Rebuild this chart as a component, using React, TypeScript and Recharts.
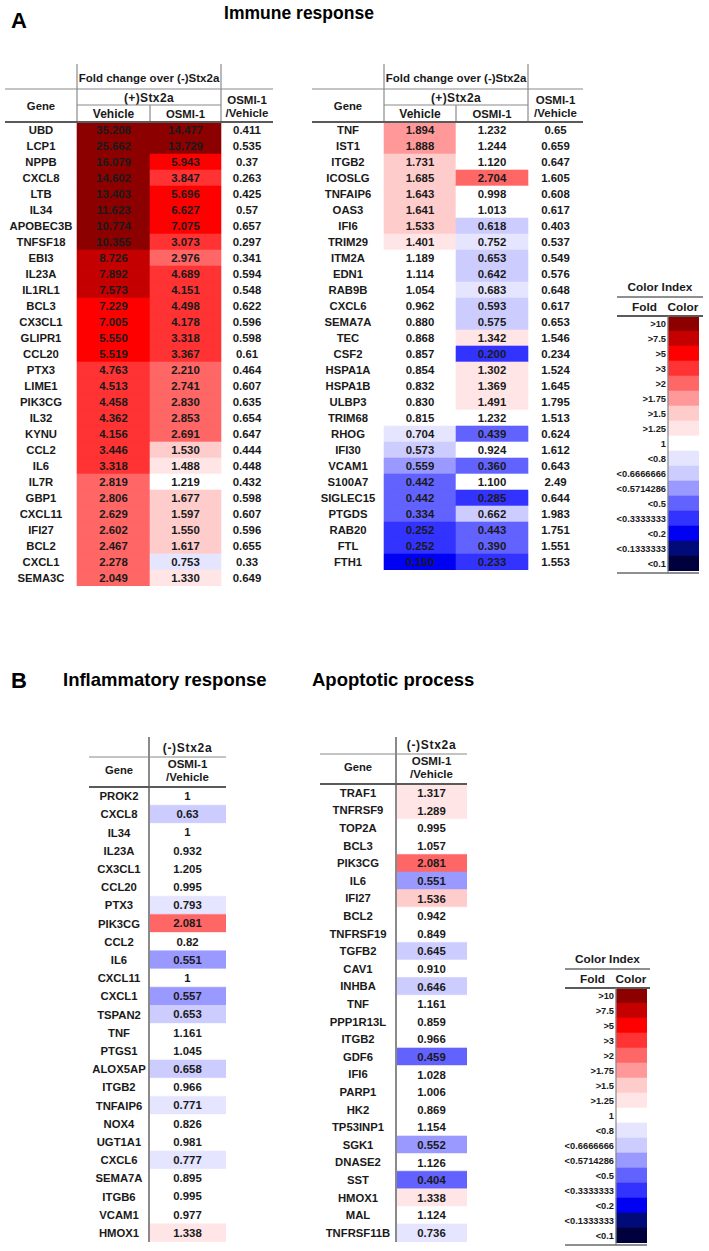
import { Bar, BarChart, Cell, LabelList, XAxis, YAxis } from "recharts";

const FONT = "'Liberation Sans', Arial, sans-serif";
const INK = "#1a1a1a";

// A: Immune response, left table
const immuneLeftGenes = [
  "UBD", "LCP1", "NPPB", "CXCL8", "LTB", "IL34", "APOBEC3B", "TNFSF18", "EBI3", "IL23A",
  "IL1RL1", "BCL3", "CX3CL1", "GLIPR1", "CCL20", "PTX3", "LIME1", "PIK3CG", "IL32", "KYNU",
  "CCL2", "IL6", "IL7R", "GBP1", "CXCL11", "IFI27", "BCL2", "CXCL1", "SEMA3C",
];
const immuneLeftVehicle = [
  35.208, 25.662, 16.079, 14.602, 13.403, 11.623, 10.774, 10.355, 8.726, 7.892,
  7.573, 7.229, 7.005, 5.55, 5.519, 4.763, 4.513, 4.458, 4.362, 4.156,
  3.446, 3.318, 2.819, 2.806, 2.629, 2.602, 2.467, 2.278, 2.049,
];
const immuneLeftOsmi = [
  14.477, 13.729, 5.943, 3.847, 5.696, 6.627, 7.075, 3.073, 2.976, 4.689,
  4.151, 4.498, 4.178, 3.318, 3.367, 2.21, 2.741, 2.83, 2.853, 2.691,
  1.53, 1.488, 1.219, 1.677, 1.597, 1.55, 1.617, 0.753, 1.33,
];
const immuneLeftRatio = [
  0.411, 0.535, 0.37, 0.263, 0.425, 0.57, 0.657, 0.297, 0.341, 0.594,
  0.548, 0.622, 0.596, 0.598, 0.61, 0.464, 0.607, 0.635, 0.654, 0.647,
  0.444, 0.448, 0.432, 0.598, 0.607, 0.596, 0.655, 0.33, 0.649,
];

// A: Immune response, right table
const immuneRightGenes = [
  "TNF", "IST1", "ITGB2", "ICOSLG", "TNFAIP6", "OAS3", "IFI6", "TRIM29", "ITM2A", "EDN1",
  "RAB9B", "CXCL6", "SEMA7A", "TEC", "CSF2", "HSPA1A", "HSPA1B", "ULBP3", "TRIM68", "RHOG",
  "IFI30", "VCAM1", "S100A7", "SIGLEC15", "PTGDS", "RAB20", "FTL", "FTH1",
];
const immuneRightVehicle = [
  1.894, 1.888, 1.731, 1.685, 1.643, 1.641, 1.533, 1.401, 1.189, 1.114,
  1.054, 0.962, 0.88, 0.868, 0.857, 0.854, 0.832, 0.83, 0.815, 0.704,
  0.573, 0.559, 0.442, 0.442, 0.334, 0.252, 0.252, 0.15,
];
const immuneRightOsmi = [
  1.232, 1.244, 1.12, 2.704, 0.998, 1.013, 0.618, 0.752, 0.653, 0.642,
  0.683, 0.593, 0.575, 1.342, 0.2, 1.302, 1.369, 1.491, 1.232, 0.439,
  0.924, 0.36, 1.1, 0.285, 0.662, 0.443, 0.39, 0.233,
];
const immuneRightRatio = [
  0.65, 0.659, 0.647, 1.605, 0.608, 0.617, 0.403, 0.537, 0.549, 0.576,
  0.648, 0.617, 0.653, 1.546, 0.234, 1.524, 1.645, 1.795, 1.513, 0.624,
  1.612, 0.643, 2.49, 0.644, 1.983, 1.751, 1.551, 1.553,
];

// B: Inflammatory response
const inflamGenes = [
  "PROK2", "CXCL8", "IL34", "IL23A", "CX3CL1", "CCL20", "PTX3", "PIK3CG", "CCL2", "IL6",
  "CXCL11", "CXCL1", "TSPAN2", "TNF", "PTGS1", "ALOX5AP", "ITGB2", "TNFAIP6", "NOX4", "UGT1A1",
  "CXCL6", "SEMA7A", "ITGB6", "VCAM1", "HMOX1",
];
const inflamRatio = [
  1, 0.63, 1, 0.932, 1.205, 0.995, 0.793, 2.081, 0.82, 0.551,
  1, 0.557, 0.653, 1.161, 1.045, 0.658, 0.966, 0.771, 0.826, 0.981,
  0.777, 0.895, 0.995, 0.977, 1.338,
];

// B: Apoptotic process
const apopGenes = [
  "TRAF1", "TNFRSF9", "TOP2A", "BCL3", "PIK3CG", "IL6", "IFI27", "BCL2", "TNFRSF19", "TGFB2",
  "CAV1", "INHBA", "TNF", "PPP1R13L", "ITGB2", "GDF6", "IFI6", "PARP1", "HK2", "TP53INP1",
  "SGK1", "DNASE2", "SST", "HMOX1", "MAL", "TNFRSF11B",
];
const apopRatio = [
  1.317, 1.289, 0.995, 1.057, 2.081, 0.551, 1.536, 0.942, 0.849, 0.645,
  0.91, 0.646, 1.161, 0.859, 0.966, 0.459, 1.028, 1.006, 0.869, 1.154,
  0.552, 1.126, 0.404, 1.338, 1.124, 0.736,
];

// colour index
const foldLabels = [
  ">10", ">7.5", ">5", ">3", ">2", ">1.75", ">1.5", ">1.25", "1",
  "<0.8", "<0.6666666", "<0.5714286", "<0.5", "<0.3333333", "<0.2", "<0.1333333", "<0.1",
];
const foldColors = [
  "#8c0000", "#c40000", "#ff0000", "#ff3333", "#ff6666", "#ff9999", "#ffcccc", "#ffe5e5", "#ffffff",
  "#e5e5ff", "#ccccff", "#9999ff", "#6262ff", "#3333ff", "#0000f2", "#000a78", "#00003c",
];
const upCuts = [10, 7.5, 5, 3, 2, 1.75, 1.5, 1.25];
const downCuts = [0.8, 0.6666666, 0.5714286, 0.5, 0.3333333, 0.2, 0.1333333, 0.1];

function colorFor(v: number) {
  const up = upCuts.findIndex((c) => v > c);
  if (up >= 0) return foldColors[up];
  let idx = 8;
  downCuts.forEach((c, i) => {
    if (v < c) idx = 9 + i;
  });
  return foldColors[idx];
}

const fixed3 = (v: number) => v.toFixed(3);
const plain = (v: number) => String(v);

type Col = { key: string; width: number; colored: boolean; fmt: (v: number) => string };

function HeatTable({ left, top, geneWidth, rowHeight, rows, cols }: any) {
  const total = cols.reduce((s: number, c: Col) => s + c.width, 0);
  return (
    <div style={{ position: "absolute", left, top }}>
      <BarChart
        layout="vertical"
        width={geneWidth + total}
        height={rows.length * rowHeight}
        data={rows}
        margin={{ top: 0, right: 0, bottom: 0, left: 0 }}
        barCategoryGap={0}
        barGap={0}
      >
        <XAxis type="number" hide domain={[0, total]} />
        <YAxis
          type="category"
          dataKey="gene"
          width={geneWidth}
          axisLine={false}
          tickLine={false}
          interval={0}
          tick={(p: any) => (
            <text
              x={geneWidth / 2}
              y={p.y}
              textAnchor="middle"
              dominantBaseline="central"
              fontSize={11.3}
              fontWeight="bold"
              fontFamily={FONT}
              fill={INK}
            >
              {p.payload.value}
            </text>
          )}
        />
        {cols.map((c: Col) => (
          <Bar key={c.key} dataKey={() => c.width} stackId="t" isAnimationActive={false}>
            {rows.map((r: any, i: number) => {
              const fill = c.colored ? colorFor(r[c.key]) : "none";
              return <Cell key={i} fill={fill} stroke={fill} strokeWidth={0.6} />;
            })}
            <LabelList
              dataKey={c.key}
              position="center"
              formatter={(v: any) => c.fmt(Number(v))}
              fill={INK}
              fontSize={11.4}
              fontWeight="bold"
              fontFamily={FONT}
            />
          </Bar>
        ))}
      </BarChart>
    </div>
  );
}

function ColorIndex({ left, top }: { left: number; top: number }) {
  const rows = foldLabels.map((gene, i) => ({ gene, bin: i }));
  const labelWidth = 58;
  const swatch = 31;
  return (
    <div style={{ position: "absolute", left, top }}>
      <BarChart
        layout="vertical"
        width={labelWidth + swatch}
        height={rows.length * 15}
        data={rows}
        margin={{ top: 0, right: 0, bottom: 0, left: 0 }}
        barCategoryGap={0}
      >
        <XAxis type="number" hide domain={[0, swatch]} />
        <YAxis
          type="category"
          dataKey="gene"
          width={labelWidth}
          axisLine={false}
          tickLine={false}
          interval={0}
          tick={(p: any) => (
            <text
              x={labelWidth - 2}
              y={p.y}
              textAnchor="end"
              dominantBaseline="central"
              fontSize={9.3}
              fontWeight="bold"
              fontFamily={FONT}
              fill={INK}
            >
              {p.payload.value}
            </text>
          )}
        />
        <Bar dataKey={() => swatch} isAnimationActive={false}>
          {rows.map((r) => (
            <Cell key={r.gene} fill={foldColors[r.bin]} stroke={foldColors[r.bin]} strokeWidth={0.6} />
          ))}
        </Bar>
      </BarChart>
    </div>
  );
}

function T({ x, y, size = 11.5, spacing = 0, anchor = "middle", children }: any) {
  return (
    <text
      x={x}
      y={y}
      textAnchor={anchor}
      dominantBaseline="central"
      fontSize={size}
      fontWeight="bold"
      fontFamily={FONT}
      letterSpacing={spacing}
      fill={INK}
    >
      {children}
    </text>
  );
}

function L({ x1, y1, x2, y2, w = 1.2, c = "#8a8a8a" }: any) {
  return <line x1={x1} y1={y1} x2={x2} y2={y2} stroke={c} strokeWidth={w} />;
}

function FoldHeader({ g0, v0, o0, r0, r1 }: any) {
  const mid = (v0 + r0) / 2;
  return (
    <g>
      <T x={mid} y={78} size={11.5}>Fold change over (-)Stx2a</T>
      <L x1={g0} y1={89} x2={r1} y2={89} />
      <L x1={v0} y1={64} x2={v0} y2={122} />
      <L x1={r0} y1={64} x2={r0} y2={122} />
      <T x={mid} y={97.5} size={12} spacing={0.4}>(+)Stx2a</T>
      <L x1={v0} y1={105} x2={r0} y2={105} />
      <L x1={o0} y1={105} x2={o0} y2={122} />
      <T x={(v0 + o0) / 2} y={113.5} size={12}>Vehicle</T>
      <T x={(o0 + r0) / 2} y={113.5} size={11.3}>OSMI-1</T>
      <T x={(g0 + v0) / 2} y={106} size={11.3}>Gene</T>
      <T x={(r0 + r1) / 2} y={99.5} size={11.5}>OSMI-1</T>
      <T x={(r0 + r1) / 2} y={112.5} size={11.5}>/Vehicle</T>
      <L x1={g0} y1={122} x2={r1} y2={122} w={2} c="#5a5a5a" />
    </g>
  );
}

function RatioHeader({ g0, v0, v1, top, bottom }: any) {
  return (
    <g>
      <L x1={v0} y1={737} x2={v0} y2={1242} w={2} c="#8a8a8a" />
      <T x={(v0 + v1) / 2} y={top + 10} size={12} spacing={0.7}>(-)Stx2a</T>
      <L x1={g0} y1={top + 19} x2={v1} y2={top + 19} />
      <T x={(g0 + v0) / 2} y={top + 32} size={11.2}>Gene</T>
      <T x={(v0 + v1) / 2} y={top + 26}>OSMI-1</T>
      <T x={(v0 + v1) / 2} y={top + 39}>/Vehicle</T>
      <L x1={g0} y1={bottom} x2={v1} y2={bottom} w={2} c="#5a5a5a" />
    </g>
  );
}

function LegendHeader({ x0, x1, split, top }: any) {
  return (
    <g>
      <T x={(x0 + x1) / 2} y={top} size={11.8}>Color Index</T>
      <L x1={x0} y1={top + 10} x2={x1} y2={top + 10} w={1.5} c="#6a6a6a" />
      <T x={(x0 + split) / 2 + 2} y={top + 20} size={11.8}>Fold</T>
      <T x={split + 15} y={top + 20} size={11.8}>Color</T>
      <L x1={x0} y1={top + 29} x2={x1} y2={top + 29} w={2} c="#5a5a5a" />
      <L x1={split} y1={top + 29} x2={split} y2={top + 286} w={1.2} c="#8a8a8a" />
      <L x1={x0} y1={top + 286} x2={split + 31} y2={top + 286} w={1.5} c="#6a6a6a" />
    </g>
  );
}

export default function App() {
  const immuneLeftRows = immuneLeftGenes.map((gene, i) => ({
    gene,
    vehicle: immuneLeftVehicle[i],
    osmi: immuneLeftOsmi[i],
    ratio: immuneLeftRatio[i],
  }));
  const immuneRightRows = immuneRightGenes.map((gene, i) => ({
    gene,
    vehicle: immuneRightVehicle[i],
    osmi: immuneRightOsmi[i],
    ratio: immuneRightRatio[i],
  }));
  const inflamRows = inflamGenes.map((gene, i) => ({ gene, ratio: inflamRatio[i] }));
  const apopRows = apopGenes.map((gene, i) => ({ gene, ratio: apopRatio[i] }));

  const leftCols: Col[] = [
    { key: "vehicle", width: 73, colored: true, fmt: fixed3 },
    { key: "osmi", width: 71, colored: true, fmt: fixed3 },
    { key: "ratio", width: 52, colored: false, fmt: plain },
  ];
  const rightCols: Col[] = [
    { key: "vehicle", width: 72, colored: true, fmt: fixed3 },
    { key: "osmi", width: 72, colored: true, fmt: fixed3 },
    { key: "ratio", width: 55, colored: false, fmt: plain },
  ];

  return (
    <div
      style={{
        position: "absolute",
        left: 0,
        top: 0,
        width: 709,
        height: 1251,
        background: "#fff",
        fontFamily: FONT,
      }}
    >
      <HeatTable left={5} top={122} geneWidth={72} rowHeight={16} rows={immuneLeftRows} cols={leftCols} />
      <HeatTable left={312} top={122} geneWidth={72} rowHeight={16} rows={immuneRightRows} cols={rightCols} />
      <HeatTable
        left={89}
        top={787}
        geneWidth={60}
        rowHeight={18.2}
        rows={inflamRows}
        cols={[{ key: "ratio", width: 77, colored: true, fmt: plain }]}
      />
      <HeatTable
        left={320}
        top={784}
        geneWidth={76}
        rowHeight={17.6}
        rows={apopRows}
        cols={[{ key: "ratio", width: 71, colored: true, fmt: fixed3 }]}
      />
      <ColorIndex left={610} top={316} />
      <ColorIndex left={558} top={988} />

      <svg width={709} height={1251} style={{ position: "absolute", left: 0, top: 0, pointerEvents: "none" }}>
        <text x={11} y={28} fontSize={22} fontWeight="bold" fontFamily={FONT} fill="#000">A</text>
        <text x={299} y={19} textAnchor="middle" fontSize={17.5} fontWeight="bold" fontFamily={FONT} fill="#000">
          Immune response
        </text>
        <text x={11} y={688} fontSize={22} fontWeight="bold" fontFamily={FONT} fill="#000">B</text>
        <text x={63} y={686} fontSize={18.5} fontWeight="bold" fontFamily={FONT} fill="#000">
          Inflammatory response
        </text>
        <text x={312} y={686} fontSize={18.5} fontWeight="bold" fontFamily={FONT} fill="#000">
          Apoptotic process
        </text>

        <FoldHeader g0={5} v0={77} o0={150} r0={221} r1={273} />
        <FoldHeader g0={312} v0={384} o0={456} r0={528} r1={583} />

        <RatioHeader g0={89} v0={149} v1={226} top={738} bottom={787} />
        <RatioHeader g0={320} v0={396} v1={467} top={735} bottom={784} />

        <LegendHeader x0={617} x1={703} split={668} top={287} />
        <LegendHeader x0={565} x1={650} split={616} top={959} />
      </svg>
    </div>
  );
}
